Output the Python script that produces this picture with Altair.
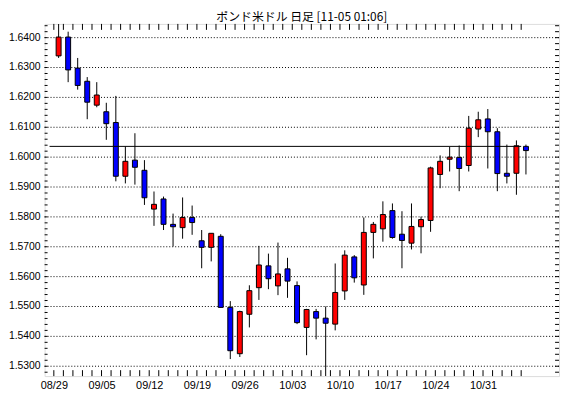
import json
import altair as alt
import numpy as np
import pandas as pd

title_text = "ポンド米ドル 日足 [11-05 01:06]"
week_labels = ["08/29", "09/05", "09/12", "09/19", "09/26", "10/03", "10/10", "10/17", "10/24", "10/31"]

opens = [1.6339, 1.6402, 1.6298, 1.6254, 1.6174, 1.6152, 1.6116, 1.5936, 1.5990, 1.5956,
         1.5826, 1.5860, 1.5775, 1.5764, 1.5798, 1.5720, 1.5698, 1.5735, 1.5497, 1.5342,
         1.5474, 1.5563, 1.5636, 1.5569, 1.5626, 1.5570, 1.5430, 1.5483, 1.5461, 1.5441,
         1.5552, 1.5666, 1.5572, 1.5748, 1.5760, 1.5821, 1.5742, 1.5712, 1.5767, 1.5788,
         1.5942, 1.5993, 1.5999, 1.5972, 1.6094, 1.6128, 1.6085, 1.5946, 1.5946, 1.6036]
highs = [1.6450, 1.6420, 1.6332, 1.6268, 1.6251, 1.6182, 1.6205, 1.6036, 1.6080, 1.5990,
         1.5885, 1.5868, 1.5811, 1.5865, 1.5838, 1.5756, 1.5745, 1.5742, 1.5518, 1.5486,
         1.5571, 1.5703, 1.5677, 1.5714, 1.5663, 1.5584, 1.5492, 1.5492, 1.5500, 1.5644,
         1.5688, 1.5672, 1.5798, 1.5783, 1.5852, 1.5845, 1.5819, 1.5845, 1.5801, 1.5968,
         1.6006, 1.6034, 1.6039, 1.6138, 1.6152, 1.6161, 1.6097, 1.6042, 1.6056, 1.6042]
lows = [1.6332, 1.6251, 1.6226, 1.6127, 1.6167, 1.6058, 1.5919, 1.5912, 1.5908, 1.5840,
        1.5770, 1.5756, 1.5701, 1.5727, 1.5740, 1.5628, 1.5651, 1.5497, 1.5324, 1.5331,
        1.5430, 1.5522, 1.5558, 1.5538, 1.5529, 1.5441, 1.5337, 1.5390, 1.5265, 1.5420,
        1.5522, 1.5580, 1.5539, 1.5661, 1.5717, 1.5727, 1.5628, 1.5691, 1.5678, 1.5750,
        1.5896, 1.5952, 1.5886, 1.5952, 1.6067, 1.5962, 1.5886, 1.5912, 1.5874, 1.5942]
closes = [1.6402, 1.6292, 1.6240, 1.6184, 1.6208, 1.6112, 1.5936, 1.5986, 1.5966, 1.5864,
          1.5842, 1.5775, 1.5767, 1.5798, 1.5781, 1.5698, 1.5745, 1.5497, 1.5352, 1.5483,
          1.5553, 1.5639, 1.5593, 1.5609, 1.5585, 1.5446, 1.5490, 1.5461, 1.5444, 1.5547,
          1.5672, 1.5596, 1.5748, 1.5775, 1.5808, 1.5731, 1.5721, 1.5768, 1.5791, 1.5964,
          1.5986, 1.6000, 1.5962, 1.6097, 1.6125, 1.6085, 1.5945, 1.5936, 1.6038, 1.6022]
current_price = 1.6036
y_label_values = [1.64, 1.63, 1.62, 1.61, 1.60, 1.59, 1.58, 1.57, 1.56, 1.55, 1.54, 1.53]
y_minor_ticks = [round(v, 4) for v in np.arange(1.528, 1.6441, 0.002)]

n = len(opens)
idx = list(range(n))
df = pd.DataFrame({"i": idx, "open": opens, "high": highs, "low": lows, "close": closes})
df["dir"] = np.where(df["close"] >= df["open"], "up", "down")

x_domain = [-0.95, 51.95]
y_domain = [1.5267, 1.6446]
W, H = 520, 356

xs = alt.Scale(domain=x_domain, nice=False, zero=False)
ys = alt.Scale(domain=y_domain, nice=False, zero=False)


def Y(field):
    return alt.Y(field, scale=ys, axis=None)


label_expr = json.dumps(week_labels) + "[round((datum.value + 0.5) / 5)]"
x_axis = alt.Axis(values=[k * 5 - 0.5 for k in range(len(week_labels))], labelExpr=label_expr,
                  ticks=False, domain=False, grid=False, title=None, labelPadding=4,
                  labelOverlap=False, labelFont="Liberation Sans", labelFontSize=11,
                  labelColor="black")

# horizontal grid + y labels
grid_df = pd.DataFrame({"v": y_label_values})
grid = alt.Chart(grid_df).mark_rule(color="black", strokeWidth=1, strokeDash=[1, 2]).encode(
    y=Y("v:Q"), x=alt.value(0), x2=alt.value(W)
)
y_labels = alt.Chart(grid_df).mark_text(
    font="Liberation Sans", fontSize=10.5, color="black", align="right", baseline="middle"
).encode(y=Y("v:Q"), x=alt.value(-4), text=alt.Text("v:Q", format=".4f"))

base = alt.Chart(df)
wicks = base.mark_rule(color="black", strokeWidth=1, clip=True).encode(
    x=alt.X("i:Q", scale=xs, axis=x_axis),
    y=Y("low:Q"),
    y2="high:Q",
)
bodies = base.mark_bar(width=5, stroke="black", strokeWidth=1, clip=True).encode(
    x=alt.X("i:Q", scale=xs),
    y=Y("open:Q"),
    y2="close:Q",
    color=alt.Color("dir:N", scale=alt.Scale(domain=["up", "down"], range=["#ff0000", "#0000ff"]),
                    legend=None),
)

line_df = pd.DataFrame({"x0": [x_domain[0]], "x1": [idx[-1] - 0.5], "y": [current_price]})
price_line = alt.Chart(line_df).mark_rule(color="black", strokeWidth=1).encode(
    x=alt.X("x0:Q", scale=xs), x2="x1:Q", y=Y("y:Q")
)

day_df = pd.DataFrame({"t": [i - 0.5 for i in idx]})
top_ticks = alt.Chart(day_df).mark_rule(color="black", strokeWidth=1).encode(
    x=alt.X("t:Q", scale=xs), y=alt.value(0), y2=alt.value(6)
)
bottom_ticks = alt.Chart(day_df).mark_rule(color="black", strokeWidth=1).encode(
    x=alt.X("t:Q", scale=xs), y=alt.value(H - 6), y2=alt.value(H)
)

minor_df = pd.DataFrame({"v": y_minor_ticks})
left_ticks = alt.Chart(minor_df).mark_rule(color="black", strokeWidth=1).encode(
    y=Y("v:Q"), x=alt.value(0), x2=alt.value(3)
)
right_ticks = alt.Chart(minor_df).mark_rule(color="black", strokeWidth=1).encode(
    y=Y("v:Q"), x=alt.value(W - 4), x2=alt.value(W)
)

title_df = pd.DataFrame({"text": [title_text]})
title_mark = alt.Chart(title_df).mark_text(
    font="Noto Sans CJK JP", fontSize=12, color="black", baseline="middle", align="center"
).encode(x=alt.value(W / 2), y=alt.value(-7), text="text:N")

chart = alt.layer(
    grid, y_labels, wicks, bodies, price_line, top_ticks, bottom_ticks, left_ticks, right_ticks,
    title_mark
).properties(
    width=W, height=H,
    autosize=alt.AutoSizeParams(type="none"),
    padding={"left": 37, "top": 14, "right": 3, "bottom": 15},
).configure_view(
    stroke="black", strokeWidth=1
).configure(background="white")

chart.save("out.html", embed_options={"renderer": "svg", "actions": False})
